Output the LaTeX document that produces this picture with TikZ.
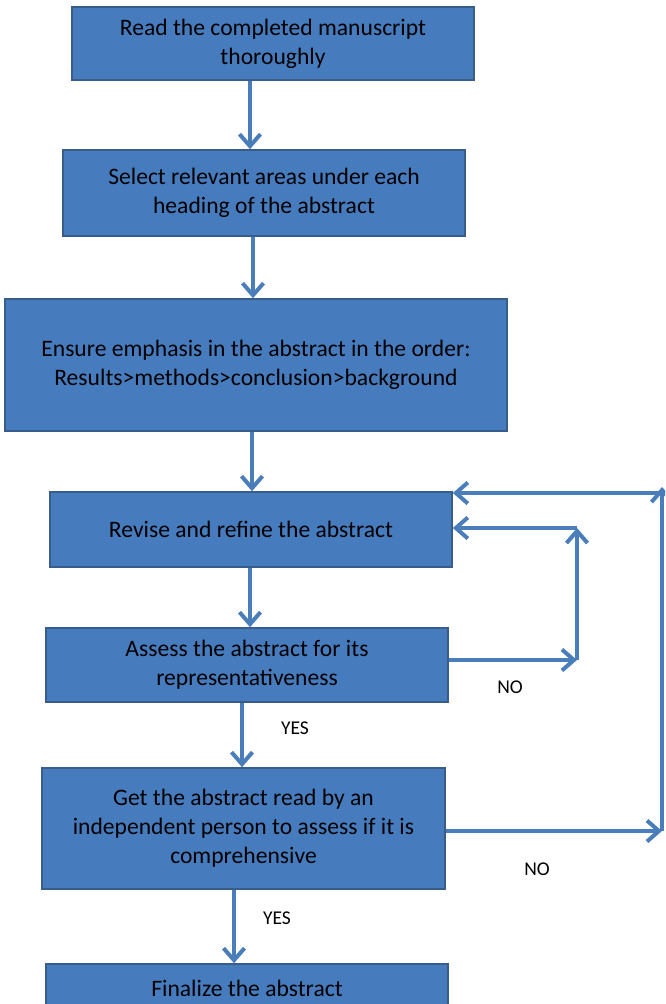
\documentclass[tikz,border=0pt]{standalone}
\usepackage{fontspec}
\setmainfont{Carlito}
\usetikzlibrary{arrows.meta}
\definecolor{boxfill}{RGB}{70,124,190}
\definecolor{boxline}{RGB}{56,93,138}
\definecolor{arrcol}{RGB}{74,126,187}
\begin{document}
\begin{tikzpicture}[x=1pt,y=-1pt,
  stepbox/.style={draw=boxline,line width=1.6pt,fill=boxfill,rectangle,align=center,
    inner sep=0pt,font=\fontsize{23.6}{29}\selectfont,text=black},
  arr/.style={draw=arrcol,line width=4pt,-{Straight Barb[length=12pt,width=21pt,line width=4pt]}},
  seg/.style={draw=arrcol,line width=4pt},
  lbl/.style={font=\fontsize{19.5}{22}\selectfont,text=black}]
\useasboundingbox (0,0) rectangle (665,1004);
\clip (0,0) rectangle (665,1004);
\node[stepbox,minimum width=402pt,minimum height=73pt] (b1) at (273,43.5) {Read the completed manuscript\\thoroughly};
\node[stepbox,minimum width=402pt,minimum height=86pt] (b2) at (264,193) {Select relevant areas under each\\heading of the abstract};
\node[stepbox,minimum width=502pt,minimum height=132pt] (b3) at (256,365) {Ensure emphasis in the abstract in the order:\\Results>methods>conclusion>background};
\node[stepbox,minimum width=402pt,minimum height=75pt] (b4) at (251,529.5) {Revise and refine the abstract};
\node[stepbox,minimum width=402pt,minimum height=74pt] (b5) at (247,665) {Assess the abstract for its\\representativeness};
\node[stepbox,minimum width=403pt,minimum height=121pt] (b6) at (243.5,828.5) {Get the abstract read by an\\independent person to assess if it is\\comprehensive};
\node[stepbox,minimum width=402pt,minimum height=48pt] (b7) at (247,988) {Finalize the abstract};
% main flow
\draw[arr] (250,0 |- b1.south) -- (250,0 |- b2.north);
\draw[arr] (253,0 |- b2.south) -- (253,0 |- b3.north);
\draw[arr] (252,0 |- b3.south) -- (252,0 |- b4.north);
\draw[arr] (250,0 |- b4.south) -- (250,0 |- b5.north);
\draw[arr] (242,0 |- b5.south) -- (242,0 |- b6.north);
\draw[arr] (234,0 |- b6.south) -- (234,0 |- b7.north);
% inner loop
\coordinate (l1) at (577,660);
\coordinate (l2) at (577,528);
\draw[arr] (b5.east |- l1) -- (l1);
\draw[arr] (l1) -- (l2);
\draw[arr] (l2) -- (b4.east |- l2);
% outer loop
\coordinate (o1) at (662,831);
\coordinate (o2) at (662,493);
\coordinate (o3) at (668,493);
\draw[arr] (b6.east |- o1) -- (o1);
\draw[arr] (o1) -- ([yshift=6pt]o2);
\draw[arr] (o3) -- (b4.east |- o3);
% labels
\node[lbl] (n1) at (510,687) {NO};
\node[lbl] (y1) at (295,728) {YES};
\node[lbl] (n2) at (537,869) {NO};
\node[lbl] (y2) at (277,918) {YES};
\end{tikzpicture}
\end{document}
